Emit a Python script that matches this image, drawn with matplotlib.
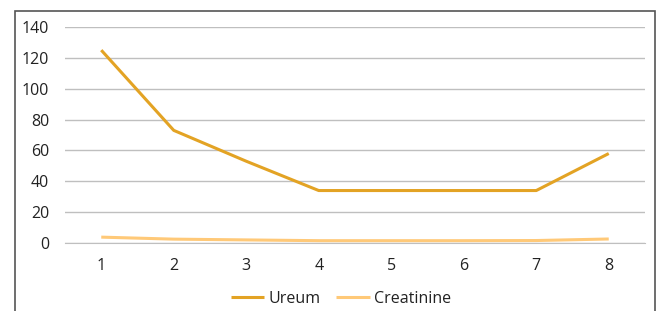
import matplotlib
matplotlib.use("Agg")
import matplotlib.pyplot as plt
from matplotlib.patches import Rectangle

categories = [1, 2, 3, 4, 5, 6, 7, 8]
ureum = [125, 73, 53, 34, 34, 34, 34, 58]
creatinine = [3.8, 2.5, 2.0, 1.5, 1.5, 1.5, 1.6, 2.6]
yticks = [0, 20, 40, 60, 80, 100, 120, 140]

plt.rcParams['font.family'] = ['Open Sans', 'DejaVu Sans']

W, H = 662, 311
fig = plt.figure(figsize=(W / 100, H / 100), dpi=100)
ax = fig.add_axes([65 / W, 1 - 243 / H, (645 - 65) / W, (243 - 27) / H])

ax.plot(categories, ureum, color='#E3A324', lw=2.2, label='Ureum', solid_capstyle='butt')
ax.plot(categories, creatinine, color='#FFC978', lw=2.2, label='Creatinine', solid_capstyle='butt')

ax.set_xlim(0.5, 8.5)
ax.set_ylim(0, 140)
ax.set_yticks(yticks)
ax.set_xticks(categories)
ax.set_xticklabels([str(c) for c in categories])
ax.grid(axis='y', color='#BFBFBF', lw=1)
ax.set_axisbelow(True)
for s in ['top', 'right', 'left']:
    ax.spines[s].set_visible(False)
ax.spines['bottom'].set_color('#BFBFBF')
ax.tick_params(length=0, labelsize=11.5, colors='#222222')
ax.tick_params(axis='x', pad=11)
ax.tick_params(axis='y', pad=11.5)

ax.legend(loc='center', bbox_to_anchor=(341 / W, 1 - 299 / H), bbox_transform=fig.transFigure,
          ncol=2, frameon=False, fontsize=11.5, handlelength=2.1, handletextpad=0.25,
          columnspacing=1.0, labelcolor='#222222')

fig.patches.append(Rectangle((15 / W, -0.1), (655 - 15) / W, 1 - 11 / H + 0.1,
                             transform=fig.transFigure, fill=False, edgecolor='#555555', lw=1.2))

fig.savefig('out.png', dpi=100)
